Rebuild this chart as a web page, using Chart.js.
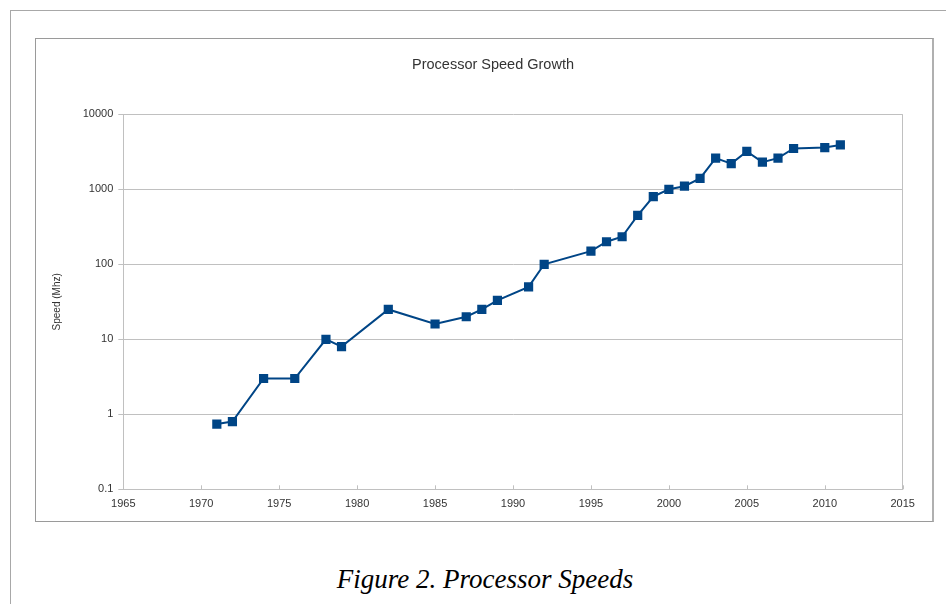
<!DOCTYPE html>
<html>
<head>
<meta charset="utf-8">
<script src="https://cdn.jsdelivr.net/npm/chart.js@4"></script>
<style>
  html, body { margin: 0; padding: 0; background: #ffffff; }
  body { width: 946px; height: 604px; position: relative; overflow: hidden; }
  #outer { position: absolute; left: 10px; top: 10px; right: -2px; bottom: -2px;
           border-top: 1px solid #a8a8a8; border-left: 1px solid #a8a8a8; }
  #inner { position: absolute; left: 35px; top: 38px; width: 896px; height: 482px;
           border: 1px solid #9a9a9a; border-right: 2px solid #b0b0b0; background: #fff; }
  #wrap { position: absolute; left: 36px; top: 39px; width: 896px; height: 482px; }
  #caption { position: absolute; left: 0; width: 970px; top: 564px; text-align: center;
             font-family: "Liberation Serif", "DejaVu Serif", serif; font-style: italic;
             font-size: 27px; color: #000; }
</style>
</head>
<body>
<div id="outer"></div>
<div id="inner"></div>
<div id="wrap"><canvas id="c" width="896" height="482"></canvas></div>
<div id="caption">Figure 2. Processor Speeds</div>
<script>
const chartTitle = "Processor Speed Growth";
const yAxisTitle = "Speed (Mhz)";
const years  = [1971, 1972, 1974, 1976, 1978, 1979, 1982, 1985, 1987, 1988, 1989, 1991, 1992,
                1995, 1996, 1997, 1998, 1999, 2000, 2001, 2002, 2003, 2004, 2005, 2006, 2007,
                2008, 2010, 2011];
const speeds = [0.74, 0.8, 3, 3, 10, 8, 25, 16, 20, 25, 33, 50, 100,
                150, 200, 233, 450, 800, 1000, 1100, 1400, 2600, 2200, 3200, 2300, 2600,
                3500, 3600, 3900];
const yTicks = [0.1, 1, 10, 100, 1000, 10000];
const xMin = 1965, xMax = 2015, xStep = 5;

const points = years.map((yr, i) => ({ x: yr, y: speeds[i] }));

const innerXTicks = {
  id: 'innerXTicks',
  afterDraw(chart) {
    const sx = chart.scales.x, ctx = chart.ctx, b = chart.chartArea.bottom;
    ctx.save();
    ctx.strokeStyle = '#c0c0c0';
    ctx.lineWidth = 1;
    sx.ticks.forEach(t => {
      const px = Math.round(sx.getPixelForValue(t.value)) + 0.5;
      ctx.beginPath();
      ctx.moveTo(px, b);
      ctx.lineTo(px, b - 4);
      ctx.stroke();
    });
    ctx.restore();
  }
};

new Chart(document.getElementById('c'), {
  type: 'line',
  data: {
    datasets: [{
      data: points,
      borderColor: '#004586',
      backgroundColor: '#004586',
      borderWidth: 2,
      pointStyle: 'rect',
      pointRadius: 6.5,
      pointHoverRadius: 6.5,
      pointBorderWidth: 0,
      tension: 0,
      fill: false
    }]
  },
  options: {
    responsive: false,
    animation: false,
    devicePixelRatio: 1,
    layout: { padding: { left: 47.3, right: 29.3, top: 0, bottom: 0 } },
    plugins: {
      legend: { display: false },
      tooltip: { enabled: false },
      title: {
        display: true,
        text: chartTitle,
        color: '#333333',
        font: { family: '"Liberation Sans", Arial, sans-serif', size: 14.5, weight: 'normal' },
        padding: { top: 17.3, bottom: 40.6 }
      }
    },
    scales: {
      x: {
        type: 'linear',
        min: xMin, max: xMax,
        afterFit(s) { s.height = 31.7; },
        ticks: {
          stepSize: xStep,
          color: '#333333',
          padding: 8,
          maxRotation: 0,
          font: { family: '"Liberation Sans", Arial, sans-serif', size: 11 },
          callback: v => String(v)
        },
        grid: {
          drawTicks: false,
          color: ctx => (ctx.tick && ctx.tick.value === xMax) ? '#c0c0c0' : 'rgba(0,0,0,0)',
          lineWidth: 1
        },
        border: { display: true, color: '#c0c0c0', width: 1 }
      },
      y: {
        type: 'logarithmic',
        min: yTicks[0], max: yTicks[yTicks.length - 1],
        afterFit(s) { s.width = 40; },
        afterBuildTicks(s) { s.ticks = yTicks.map(v => ({ value: v })); },
        ticks: {
          color: '#333333',
          padding: 5,
          font: { family: '"Liberation Sans", Arial, sans-serif', size: 11 },
          callback: v => String(v)
        },
        grid: { color: '#c0c0c0', lineWidth: 1, drawTicks: true, tickLength: 5 },
        border: { display: true, color: '#c0c0c0', width: 1 },
        title: {
          display: true,
          text: yAxisTitle,
          color: '#333333',
          font: { family: '"Liberation Sans", Arial, sans-serif', size: 10 },
          padding: { top: -32.3, bottom: 0 }
        }
      }
    }
  },
  plugins: [innerXTicks]
});
</script>
</body>
</html>
